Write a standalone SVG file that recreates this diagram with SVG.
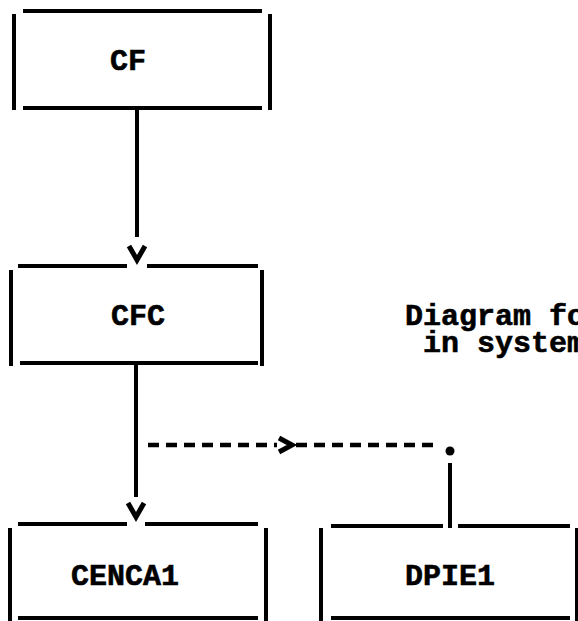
<svg xmlns="http://www.w3.org/2000/svg" width="578" height="621" viewBox="0 0 578 621">
<style>
.b{stroke:#000;stroke-width:4;fill:none}
.c{stroke:#000;stroke-width:4;fill:none}
.d{stroke:#000;stroke-width:4.5;fill:none;stroke-dasharray:11 7}
.v{stroke:#000;stroke-width:5;fill:none;stroke-linejoin:miter}
.t{font-family:"Liberation Mono","DejaVu Sans Mono",monospace;font-weight:bold;font-size:30px;fill:#000;stroke:#000;stroke-width:0.6}
</style>
<rect width="578" height="621" fill="#fff"/>
<g id="cf">
<path class="b" d="M23 11H262M23 108H262M14 14V110M270 14V110"/>
<text class="t" x="110" y="70">CF</text>
</g>
<g id="cfc">
<path class="b" d="M18 266H127M147 266H258M20 363H258M11 270V366M262 270V366"/>
<text class="t" x="111" y="325">CFC</text>
</g>
<g id="cenca1">
<path class="b" d="M18 524H127M145 524H258M18 618H258M10 528V621M266 528V621"/>
<text class="t" x="71" y="585">CENCA1</text>
</g>
<g id="dpie1">
<path class="b" d="M331 526H443M458 526H570M331 618H570M321 528V621M577 528V621"/>
<text class="t" x="405" y="585">DPIE1</text>
</g>
<g id="note">
<text class="t" x="405" y="325">Diagram fo</text>
<text class="t" x="423" y="352">in system</text>
</g>
<g id="connectors">
<path class="c" d="M137 110V237"/>
<path class="v" d="M129 246L137 260L145 246"/>
<path class="c" d="M136 363V497"/>
<path class="v" d="M128 503L136 517L144 503"/>
<path class="d" d="M148 445H277"/>
<path class="v" d="M279 438L292 445L279 452"/>
<path class="d" d="M296 445H436"/>
<circle cx="450" cy="451" r="4.5" fill="#000"/>
<path class="c" d="M450 463V528"/>
</g>
</svg>
